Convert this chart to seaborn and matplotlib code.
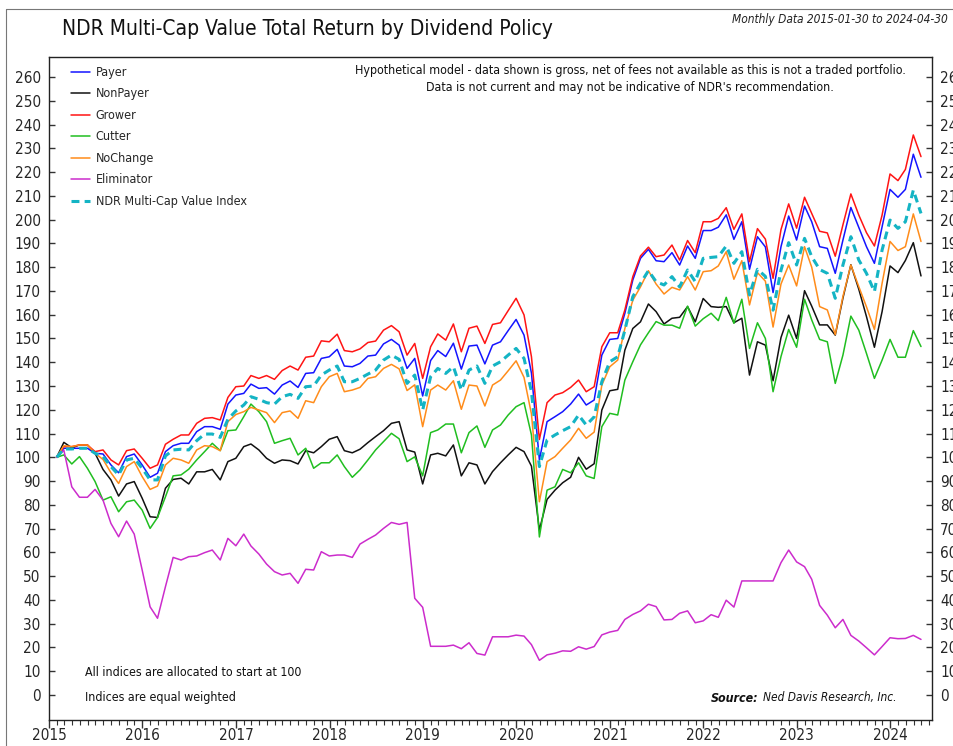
import pandas as pd
import matplotlib
matplotlib.use('Agg')
import matplotlib.pyplot as plt
import matplotlib.dates as mdates
from matplotlib.lines import Line2D
import seaborn as sns

# Monthly data 2015-01 to 2024-04 (index level, start = 100)
dates = pd.date_range('2015-01-31', periods=112, freq='ME')

payer = [100, 103.8, 103.8, 103.8, 103.8, 101.7, 101.4, 96.8, 93.5, 100.3, 101.4, 96.8,
         91.6, 93.3, 102.4, 104.9, 105.9, 105.9, 110.8, 112.9, 112.9, 111.8, 122.4, 126.2,
         126.9, 130.8, 129.0, 129.3, 126.6, 130.4, 132.1, 129.4, 135.3, 135.6, 141.6, 142.3,
         145.4, 138.4, 138.1, 139.5, 142.6, 143.0, 147.7, 149.6, 147.2, 137.4, 141.6, 125.8,
         140.7, 144.9, 142.4, 148.0, 137.1, 146.8, 147.2, 139.3, 147.2, 148.6, 153.3, 158.0,
         151.4, 135.4, 98.9, 115.0, 117.1, 119.2, 122.4, 126.6, 122.0, 124.1, 143.0, 149.6,
         150.0, 160.6, 174.6, 183.7, 187.5, 182.7, 182.3, 186.1, 180.9, 188.9, 183.7, 195.4,
         195.4, 196.8, 202.0, 191.7, 199.1, 179.1, 192.8, 188.5, 169.3, 188.6, 201.5, 191.4,
         205.7, 199.1, 188.6, 187.9, 177.4, 191.4, 205.1, 196.7, 188.6, 181.6, 197.0, 212.7,
         209.4, 212.7, 227.5, 217.8]

nonpayer = [100, 106.3, 104.0, 105.2, 105.2, 101.7, 94.9, 90.5, 83.7, 88.8, 89.8, 82.8,
            75.0, 74.7, 87.0, 90.7, 91.2, 88.8, 93.9, 93.9, 94.9, 90.5, 98.2, 99.6,
            104.5, 105.6, 103.1, 99.6, 97.5, 98.9, 98.6, 97.2, 102.8, 101.9, 104.5, 107.6,
            108.7, 102.8, 101.9, 103.4, 106.2, 108.7, 111.2, 114.3, 115.0, 103.1, 102.2, 88.8,
            101.0, 101.7, 100.6, 105.2, 92.2, 97.7, 96.8, 88.8, 94.0, 97.7, 101.0, 104.2,
            102.4, 96.3, 69.4, 82.3, 86.2, 89.3, 91.6, 100.0, 95.0, 97.3, 119.9, 128.0,
            128.6, 145.1, 154.2, 157.0, 164.5, 161.3, 156.1, 158.5, 158.9, 163.4, 157.0, 166.8,
            163.4, 163.1, 163.4, 156.6, 158.5, 134.6, 148.6, 147.2, 132.2, 150.4, 159.8, 150.0,
            170.1, 163.6, 155.7, 155.7, 151.4, 167.0, 181.0, 170.7, 159.2, 146.3, 161.3, 180.5,
            177.7, 182.8, 190.3, 176.3]

grower = [100, 104.5, 104.5, 105.2, 105.2, 102.4, 103.1, 98.9, 96.8, 102.8, 103.5, 99.6,
          95.4, 96.8, 105.5, 107.6, 109.4, 109.4, 114.3, 116.4, 116.7, 115.7, 125.2, 129.7,
          130.0, 134.4, 133.2, 134.4, 132.8, 136.5, 138.4, 136.7, 142.1, 142.6, 149.0, 148.6,
          151.8, 144.9, 144.4, 145.6, 148.3, 148.9, 153.5, 155.4, 152.8, 143.0, 147.9, 133.2,
          146.5, 151.9, 149.3, 156.1, 144.4, 154.3, 155.2, 147.9, 155.9, 156.6, 161.7, 166.9,
          159.9, 142.3, 107.5, 123.0, 126.2, 127.2, 129.4, 132.5, 127.6, 129.7, 146.5, 152.4,
          152.4, 162.0, 176.0, 184.7, 188.4, 184.4, 185.1, 189.3, 183.0, 191.2, 186.1, 199.1,
          199.1, 200.5, 205.0, 195.9, 202.4, 182.3, 196.2, 191.8, 175.3, 195.8, 206.6, 196.4,
          209.4, 202.6, 195.1, 194.4, 184.6, 197.8, 210.8, 201.9, 194.5, 188.9, 201.9, 219.2,
          216.4, 221.1, 235.6, 226.5]

cutter = [100, 101.0, 97.2, 100.3, 95.4, 89.8, 82.0, 83.4, 77.1, 81.3, 82.0, 77.8,
          70.1, 74.7, 83.4, 92.2, 92.6, 95.0, 98.9, 102.4, 105.9, 102.8, 111.2, 111.5,
          117.1, 122.4, 119.2, 115.0, 105.9, 107.0, 108.0, 101.0, 103.8, 95.4, 97.7, 97.7,
          101.0, 96.1, 91.6, 94.7, 98.9, 103.1, 106.6, 110.1, 107.8, 98.2, 100.2, 92.2,
          110.4, 111.5, 114.0, 114.0, 101.9, 110.4, 113.2, 104.2, 111.5, 113.6, 117.8, 121.3,
          123.0, 109.4, 66.5, 86.2, 87.6, 94.9, 93.5, 97.7, 92.2, 91.1, 112.9, 118.5,
          117.8, 132.5, 140.2, 147.3, 152.4, 157.1, 155.6, 155.6, 154.3, 163.6, 155.2, 158.3,
          160.6, 157.5, 167.3, 156.4, 166.5, 145.8, 156.6, 150.0, 127.6, 142.4, 153.8, 146.3,
          166.5, 157.8, 149.6, 148.6, 131.1, 143.0, 159.4, 153.5, 143.7, 133.2, 140.9, 149.6,
          142.1, 142.1, 153.3, 146.6]

nochange = [100, 104.9, 104.5, 105.2, 105.2, 101.7, 99.1, 93.5, 89.0, 96.1, 98.2, 91.9,
            86.5, 87.9, 96.8, 99.6, 98.9, 97.5, 103.1, 104.9, 104.5, 102.8, 115.0, 118.0,
            119.2, 121.0, 119.9, 118.8, 114.6, 118.8, 119.5, 116.4, 123.8, 123.0, 129.7, 133.9,
            135.3, 127.6, 128.3, 129.4, 133.2, 133.9, 137.4, 139.1, 137.2, 128.1, 130.5, 112.9,
            128.3, 130.4, 128.3, 132.2, 120.2, 130.4, 130.0, 121.6, 130.4, 132.5, 136.4, 140.6,
            133.6, 118.2, 81.3, 98.2, 100.3, 103.8, 107.3, 112.2, 108.0, 110.6, 130.4, 138.1,
            140.9, 154.2, 166.1, 171.7, 178.5, 172.9, 168.7, 171.5, 170.4, 176.0, 170.4, 178.1,
            178.5, 180.5, 186.5, 174.9, 182.7, 164.1, 177.7, 174.1, 154.8, 172.9, 180.9, 172.1,
            188.6, 180.0, 163.4, 162.0, 151.6, 167.7, 180.9, 171.8, 163.3, 153.8, 173.2, 190.8,
            187.0, 188.6, 202.4, 190.8]

eliminator = [100, 103.0, 87.6, 83.2, 83.2, 86.5, 82.0, 72.2, 66.6, 73.2, 67.7, 52.6,
              37.1, 32.3, 45.6, 57.9, 56.8, 58.2, 58.5, 59.9, 61.0, 56.8, 65.9, 62.8,
              67.7, 62.7, 59.3, 55.1, 51.9, 50.5, 51.2, 47.0, 52.9, 52.6, 60.3, 58.5,
              58.9, 58.9, 57.9, 63.5, 65.5, 67.3, 70.1, 72.6, 71.8, 72.6, 40.7, 36.9,
              20.5, 20.5, 20.5, 21.0, 19.5, 22.0, 17.5, 16.8, 24.5, 24.5, 24.5, 25.2,
              24.8, 21.2, 14.6, 16.9, 17.6, 18.6, 18.4, 20.3, 19.3, 20.4, 25.3, 26.5,
              27.2, 31.8, 33.9, 35.4, 38.2, 37.2, 31.6, 31.8, 34.4, 35.4, 30.4, 31.2,
              33.8, 32.7, 39.9, 37.0, 48.0, 48.0, 48.0, 48.0, 48.0, 55.7, 61.0, 56.0,
              54.0, 48.7, 37.7, 33.6, 28.3, 31.8, 25.1, 22.7, 19.9, 16.9, 20.4, 24.1,
              23.7, 23.8, 25.1, 23.4]

index = [100, 103.5, 103.5, 103.8, 103.8, 101.7, 100.3, 96.1, 92.6, 98.9, 99.6, 95.4,
         90.5, 90.5, 100.6, 103.1, 103.4, 103.1, 107.0, 109.8, 109.8, 108.4, 116.0, 119.5,
         122.0, 125.5, 124.4, 123.0, 122.4, 125.5, 126.5, 124.8, 129.7, 130.0, 134.6, 136.7,
         138.4, 131.8, 131.8, 133.2, 135.0, 136.7, 140.9, 143.0, 141.2, 131.1, 134.6, 119.9,
         133.9, 137.4, 135.3, 138.1, 128.3, 136.7, 138.4, 131.1, 138.4, 140.2, 143.0, 145.8,
         141.6, 127.6, 96.1, 107.3, 109.4, 111.2, 112.9, 117.8, 113.6, 117.0, 131.8, 140.2,
         142.3, 153.5, 167.6, 173.2, 178.5, 173.9, 172.5, 176.0, 171.7, 178.8, 173.9, 183.7,
         184.1, 184.4, 188.9, 181.6, 186.5, 168.3, 179.1, 176.1, 161.9, 178.7, 190.3, 180.9,
         192.1, 184.4, 179.0, 177.4, 166.9, 180.9, 192.8, 183.0, 177.4, 169.7, 187.2, 199.8,
         196.3, 199.1, 212.4, 202.6]

series_names = ['Payer', 'NonPayer', 'Grower', 'Cutter', 'NoChange', 'Eliminator',
                'NDR Multi-Cap Value Index']
series_values = [payer, nonpayer, grower, cutter, nochange, eliminator, index]
colors = ['#1414ff', '#111111', '#ff1414', '#20be20', '#ff8c1a', '#cc2ccc', '#14b4c4']

df = pd.DataFrame({'date': dates})
for name, vals in zip(series_names, series_values):
    df[name] = vals

sns.set_style('white')
plt.rcParams['font.family'] = ['DejaVu Sans']
plt.rcParams['font.stretch'] = 'condensed'

fig = plt.figure(figsize=(9.54, 7.46), dpi=100)
ax = fig.add_axes([49 / 954, 1 - 720 / 746, (932 - 49) / 954, (720 - 57) / 746])

for name, col in zip(series_names, colors):
    if name.startswith('NDR'):
        sns.lineplot(data=df, x='date', y=name, ax=ax, color=col, lw=2.2,
                     label=name, linestyle=(0, (2.6, 1.7)))
    else:
        sns.lineplot(data=df, x='date', y=name, ax=ax, color=col, lw=1.1, label=name)

ax.set_xlim(pd.Timestamp('2015-01-01'), pd.Timestamp('2024-06-12'))
ax.set_ylim(-10.5, 268.4)
ax.set_xlabel('')
ax.set_ylabel('')

ax.set_yticks(range(0, 261, 10))
ax.xaxis.set_major_locator(mdates.YearLocator())
ax.xaxis.set_major_formatter(mdates.DateFormatter('%Y'))
ax.xaxis.set_minor_locator(mdates.MonthLocator())
ax.tick_params(axis='x', which='major', direction='out', length=6, width=1,
               labelsize=11, pad=0, color='#333333', bottom=True)
ax.tick_params(axis='x', which='minor', direction='out', length=3.5, width=0.8,
               color='#333333', bottom=True)
ax.tick_params(axis='y', direction='in', length=4, width=1, labelsize=11,
               left=True, right=True, labelleft=True, labelright=True, pad=6,
               color='#333333')

for sp in ax.spines.values():
    sp.set_color('#222222')
    sp.set_linewidth(1.0)

leg = ax.legend(loc='upper left', bbox_to_anchor=(0.019, 0.994), frameon=False,
                fontsize=9, handlelength=1.52, handletextpad=0.48, labelspacing=0.68,
                borderaxespad=0)

fig.text(62 / 954, 1 - 29 / 746, 'NDR Multi-Cap Value Total Return by Dividend Policy',
         fontsize=15, va='center', ha='left', color='#111111')
fig.text(948 / 954, 1 - 20 / 746, 'Monthly Data 2015-01-30 to 2024-04-30',
         fontsize=8.6, style='italic', va='center', ha='right', color='#222222')
fig.text(630 / 954, 1 - 64 / 746,
         "Hypothetical model - data shown is gross, net of fees not available as this is not a traded portfolio.\n"
         "Data is not current and may not be indicative of NDR's recommendation.",
         fontsize=8.9, va='top', ha='center', linespacing=1.45, color='#111111')
fig.text(85 / 954, 1 - 672 / 746, 'All indices are allocated to start at 100',
         fontsize=8.9, va='center', ha='left', color='#111111')
fig.text(85 / 954, 1 - 698 / 746, 'Indices are equal weighted',
         fontsize=8.9, va='center', ha='left', color='#111111')
fig.text(711 / 954, 1 - 698 / 746, 'Source:', fontsize=8.9, weight='bold',
         style='italic', va='center', ha='left', color='#111111')
fig.text(763 / 954, 1 - 698 / 746, 'Ned Davis Research, Inc.', fontsize=8.6,
         style='italic', va='center', ha='left', color='#111111')

# outer frame of the chart page
fig.add_artist(Line2D([6 / 954, 6 / 954], [0, 1 - 9 / 746], transform=fig.transFigure,
                      color='#777777', lw=0.8))
fig.add_artist(Line2D([6 / 954, 1], [1 - 9 / 746, 1 - 9 / 746], transform=fig.transFigure,
                      color='#777777', lw=0.8))

fig.savefig('out.png', dpi=100)
